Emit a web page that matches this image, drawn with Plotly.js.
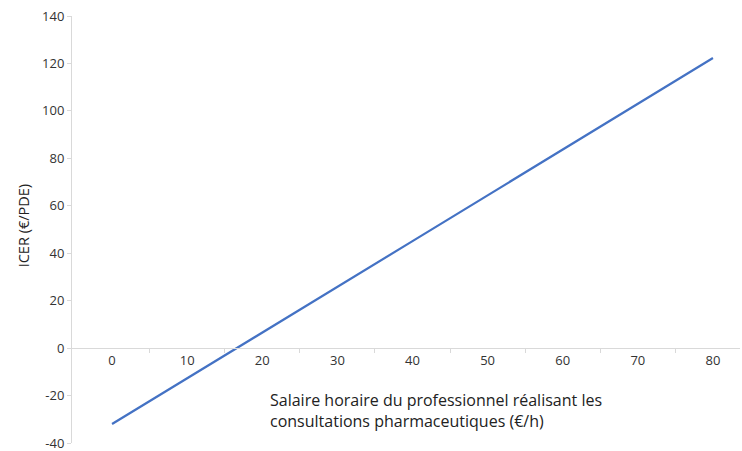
<!DOCTYPE html>
<html><head><meta charset="utf-8">
<script src="https://cdn.plot.ly/plotly-3.0.1.min.js"></script>
<style>body{margin:0;background:#fff}#c{width:742px;height:451px}</style>
</head><body><div id="c"></div>
<script>
const salaire = [0, 10, 20, 30, 40, 50, 60, 70, 80];
const icer = [-32, -12.8, 6.5, 25.8, 45.1, 64.4, 83.7, 103, 122.3];
const xTickVals = [0, 10, 20, 30, 40, 50, 60, 70, 80];
const xMinorTicks = [5, 15, 25, 35, 45, 55, 65, 75];
const yTickVals = [-40, -20, 0, 20, 40, 60, 80, 100, 120, 140];
const yTickText = ['-40', '-20', '0', '20', '40', '60', '80', '100', '120', '140'];
const yTitle = 'ICER (€/PDE)';
const xTitle = 'Salaire horaire du professionnel réalisant les<br>consultations pharmaceutiques (€/h)';

const yMin = -40, yMax = 140;
const zeroPos = (0 - yMin) / (yMax - yMin);
const xRange = [-5.33, 83.6];
const font = '"Open Sans", sans-serif';
const axisGray = '#d9d9d9';

const data = [
  {x: salaire, y: icer, type: 'scatter', mode: 'lines',
   line: {color: '#4472c4', width: 2.2}, hoverinfo: 'skip', showlegend: false},
  {x: [xRange[0]], y: [0], xaxis: 'x2', type: 'scatter', mode: 'markers',
   marker: {opacity: 0}, hoverinfo: 'skip', showlegend: false}
];

const layout = {
  width: 742, height: 451,
  margin: {l: 72, r: 2, t: 16, b: 8},
  paper_bgcolor: '#fff', plot_bgcolor: '#fff',
  font: {family: font, size: 13, color: '#404040'},
  xaxis: {
    range: xRange, anchor: 'free', position: zeroPos,
    tickvals: xTickVals, ticktext: xTickVals.map(String),
    ticks: '', showgrid: false, zeroline: false,
    showline: true, linecolor: axisGray, linewidth: 1,
    tickfont: {family: font, size: 13, color: '#333'}
  },
  xaxis2: {
    range: xRange, overlaying: 'x', anchor: 'free', position: zeroPos,
    tickvals: xMinorTicks, showticklabels: false,
    ticks: 'outside', ticklen: 4, tickcolor: axisGray, tickwidth: 1,
    showgrid: false, zeroline: false, showline: false
  },
  yaxis: {
    range: [yMin, yMax], tickvals: yTickVals, ticktext: yTickText,
    ticks: 'outside', ticklen: 4, tickcolor: axisGray,
    showgrid: false, zeroline: false, ticklabeloverflow: 'allow',
    showline: true, linecolor: axisGray, linewidth: 1,
    tickfont: {family: font, size: 13, color: '#333'}
  },
  annotations: [
    {text: yTitle, xref: 'paper', yref: 'paper', x: -0.073, y: 0.508,
     textangle: -90, showarrow: false, xanchor: 'center', yanchor: 'middle',
     font: {family: font, size: 14.5, color: '#222'}},
    {text: xTitle, xref: 'paper', yref: 'paper', x: 0.294, y: 0.077,
     showarrow: false, xanchor: 'left', yanchor: 'middle', align: 'left',
     font: {family: font, size: 16, color: '#222'}}
  ]
};

Plotly.newPlot('c', data, layout, {displayModeBar: false, staticPlot: true});
</script></body></html>
